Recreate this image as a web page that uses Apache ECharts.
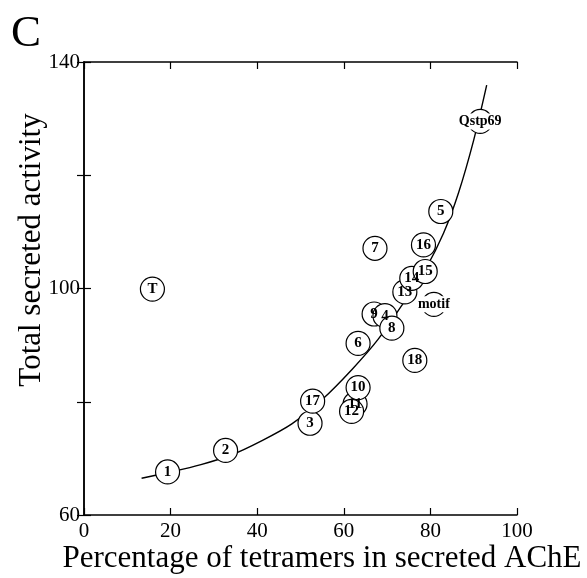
<!DOCTYPE html>
<html>
<head>
<meta charset="utf-8">
<script src="https://cdn.jsdelivr.net/npm/echarts@6/dist/echarts.min.js"></script>
<style>
html,body{margin:0;padding:0;background:#fff;}
#chart{width:587px;height:578px;}
</style>
</head>
<body>
<div id="chart"></div>
<script>
// ---- data ----
const pointLabels = ['T','1','2','3','17','11','12','10','6','9','4','8','18','7','13','14','15','16','motif','5','Qstp69'];
const pointX = [15.8,19.3,32.7,52.2,52.8,62.6,61.8,63.3,63.3,67.0,69.5,71.1,76.4,67.2,74.1,75.7,78.8,78.4,80.8,82.4,91.5];
const pointY = [99.9,67.6,71.4,76.2,80.1,79.6,78.3,82.5,90.3,95.5,95.2,93.0,87.3,107.1,99.4,101.8,103.0,107.7,97.2,113.6,129.5];

// fitted curve, points
const curveX = [13.3,20,27,34,41,48,55,62,68,74,79,83,86.5,90,93];
const curveY = [66.5,67.6,68.9,70.6,73.1,76.1,80.4,85.8,91.1,97.7,103.6,109.7,116.9,126.2,135.9];

const xTicks = [0,20,40,60,80,100];
const yTickLabels = [60,100,140];

const serif = '"Liberation Serif","DejaVu Serif",serif';

const chart = echarts.init(document.getElementById('chart'), null, {renderer:'canvas'});

const scatterData = pointLabels.map((name,i)=>{
  const item = {name:name, value:[pointX[i], pointY[i]]};
  if (name.length > 2) {
    item.label = {backgroundColor:'#fff', padding:[1,1], fontSize:14};
  }
  return item;
});

const lineData = curveX.map((x,i)=>[x, curveY[i]]);

const axisLineStyle = {show:true, lineStyle:{color:'#000', width:1.5}};
const tickStyle = {show:true, inside:true, length:7, lineStyle:{color:'#000', width:1.2}};

chart.setOption({
  animation:false,
  backgroundColor:'#fff',
  grid:{left:84, top:62, right:70, bottom:63},
  xAxis:[
    {type:'value', min:0, max:100, interval:20, position:'bottom',
     axisLine:axisLineStyle, axisTick:tickStyle, splitLine:{show:false},
     axisLabel:{color:'#000', fontFamily:serif, fontSize:21, margin:6,
       formatter:v=> xTicks.indexOf(v)>=0 ? String(v) : ''}},
    {type:'value', min:0, max:100, interval:20, position:'top',
     axisLine:axisLineStyle, axisTick:tickStyle, splitLine:{show:false},
     axisLabel:{show:false}}
  ],
  yAxis:[
    {type:'value', min:60, max:140, interval:20, position:'left',
     axisLine:axisLineStyle, axisTick:tickStyle, splitLine:{show:false},
     axisLabel:{color:'#000', fontFamily:serif, fontSize:21, margin:4,
       formatter:v=> yTickLabels.indexOf(v)>=0 ? String(v) : ''}},
    {type:'value', min:60, max:140, interval:20, position:'right',
     axisLine:axisLineStyle, axisTick:tickStyle, splitLine:{show:false},
     axisLabel:{show:false}}
  ],
  graphic:[
    {type:'text', left:11, top:12, style:{text:'C', font:'45px '+serif, fill:'#000'}},
    {type:'text', x:322, y:559, style:{text:'Percentage of tetramers in secreted AChE', font:'31px '+serif, fill:'#000', textAlign:'center', textVerticalAlign:'middle'}},
    {type:'text', x:32, y:250, rotation:Math.PI/2, style:{text:'Total secreted activity', font:'31px '+serif, fill:'#000', textAlign:'center', textVerticalAlign:'middle'}}
  ],
  series:[
    {type:'line', data:lineData, smooth:0.3, showSymbol:false, symbol:'none',
     lineStyle:{color:'#000', width:1.4}, z:2, silent:true},
    {type:'scatter', data:scatterData, symbol:'circle', symbolSize:24, z:3,
     itemStyle:{color:'#fff', borderColor:'#000', borderWidth:1.2, opacity:1},
     label:{show:true, position:'inside', formatter:'{b}', color:'#000',
       fontFamily:serif, fontWeight:'bold', fontSize:15}}
  ]
});
</script>
</body>
</html>
